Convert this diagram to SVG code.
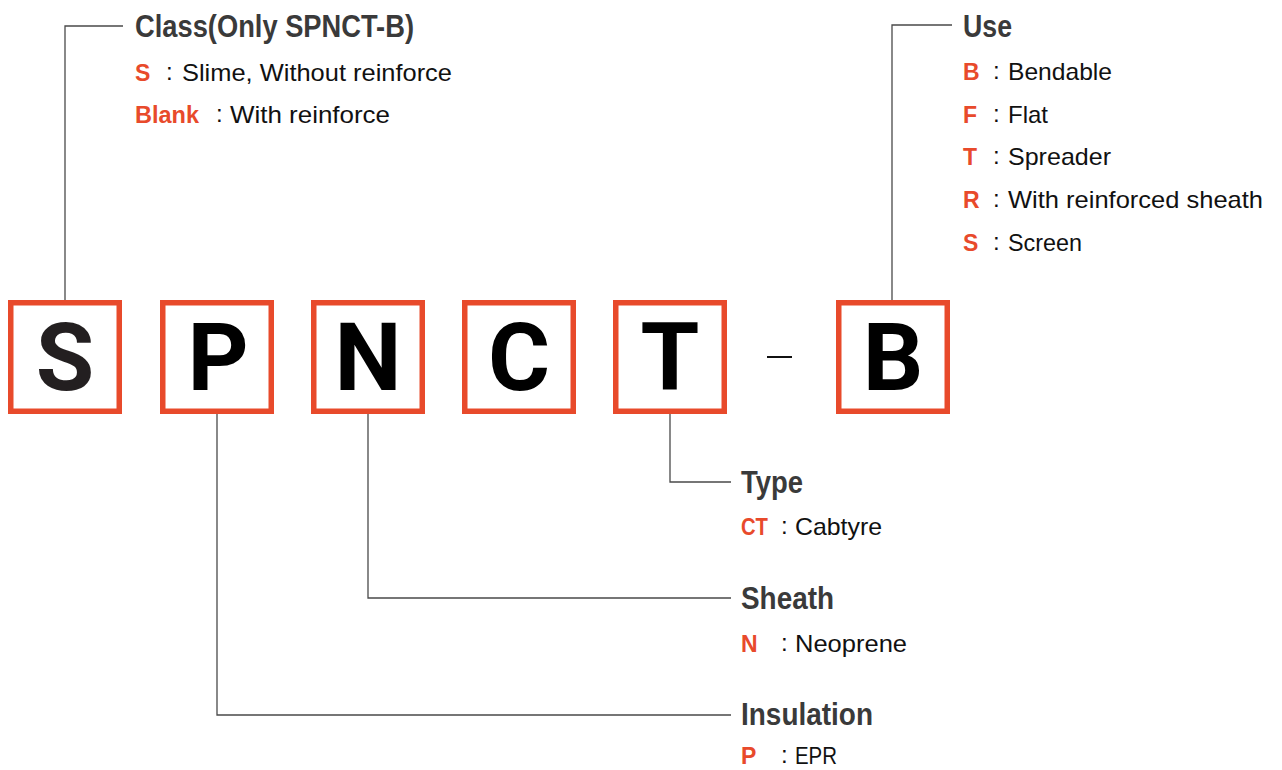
<svg xmlns="http://www.w3.org/2000/svg" width="1282" height="770" viewBox="0 0 1282 770">
  <style>
    .box { fill: #ffffff; stroke: #e84a2b; stroke-width: 5.5; }
    .code { font-family: Roboto, "Liberation Sans", sans-serif; font-weight: 700; font-size: 95px; fill: #000000; text-anchor: middle; }
    .head { font-family: "Liberation Sans", Arial, sans-serif; font-weight: 700; font-size: 31px; fill: #3a3a3a; }
    .key { font-family: "Liberation Sans", Arial, sans-serif; font-weight: 700; font-size: 23px; fill: #e84a2b; }
    .txt { font-family: "Liberation Sans", Arial, sans-serif; font-size: 24px; fill: #111111; }
    .wire { fill: none; stroke: #4a4a4a; stroke-width: 1.3; }
  </style>
  <rect width="1282" height="770" fill="#ffffff"/>

  <!-- connectors -->
  <g id="connectors">
    <polyline class="wire" points="123,26 65,26 65,300"/>
    <polyline class="wire" points="952,25 892,25 892,300"/>
    <polyline class="wire" points="670,413 670,482 731,482"/>
    <polyline class="wire" points="368,413 368,598 731,598"/>
    <polyline class="wire" points="217,413 217,715 731,715"/>
    <line x1="767" y1="357" x2="792" y2="357" stroke="#111111" stroke-width="2"/>
  </g>

  <!-- letter boxes -->
  <g id="box-s">
    <rect class="box" x="10.75" y="302.75" width="108.5" height="108.5"/>
    <text class="code" x="65" y="390" fill="#231f20" style="fill:#231f20">S</text>
  </g>
  <g id="box-p">
    <rect class="box" x="162.75" y="302.75" width="108.5" height="108.5"/>
    <text class="code" x="218" y="390">P</text>
  </g>
  <g id="box-n">
    <rect class="box" x="313.75" y="302.75" width="108.5" height="108.5"/>
    <text class="code" x="368" y="390">N</text>
  </g>
  <g id="box-c">
    <rect class="box" x="464.75" y="302.75" width="108.5" height="108.5"/>
    <text class="code" x="519" y="390">C</text>
  </g>
  <g id="box-t">
    <rect class="box" x="615.75" y="302.75" width="108.5" height="108.5"/>
    <text class="code" x="670" y="390">T</text>
  </g>
  <g id="box-b">
    <rect class="box" x="838.75" y="302.75" width="108.5" height="108.5"/>
    <text class="code" x="893" y="390">B</text>
  </g>

  <!-- class legend -->
  <g id="legend-class">
    <text class="head" x="135" y="37" textLength="279" lengthAdjust="spacingAndGlyphs">Class(Only SPNCT-B)</text>
    <text class="key" x="135" y="81">S</text>
    <text class="txt" x="166" y="80">:</text>
    <text class="txt" x="182" y="81" textLength="270" lengthAdjust="spacingAndGlyphs">Slime, Without reinforce</text>
    <text class="key" x="135" y="123" textLength="64" lengthAdjust="spacingAndGlyphs">Blank</text>
    <text class="txt" x="216" y="122">:</text>
    <text class="txt" x="230" y="123" textLength="160" lengthAdjust="spacingAndGlyphs">With reinforce</text>
  </g>

  <!-- use legend -->
  <g id="legend-use">
    <text class="head" x="963" y="37" textLength="49" lengthAdjust="spacingAndGlyphs">Use</text>
    <text class="key" x="963" y="80">B</text>
    <text class="txt" x="993" y="79">:</text>
    <text class="txt" x="1008" y="80" textLength="104" lengthAdjust="spacingAndGlyphs">Bendable</text>
    <text class="key" x="963" y="123">F</text>
    <text class="txt" x="993" y="122">:</text>
    <text class="txt" x="1008" y="123" textLength="40" lengthAdjust="spacingAndGlyphs">Flat</text>
    <text class="key" x="963" y="165">T</text>
    <text class="txt" x="993" y="164">:</text>
    <text class="txt" x="1008" y="165" textLength="103" lengthAdjust="spacingAndGlyphs">Spreader</text>
    <text class="key" x="963" y="208">R</text>
    <text class="txt" x="993" y="207">:</text>
    <text class="txt" x="1008" y="208" textLength="255" lengthAdjust="spacingAndGlyphs">With reinforced sheath</text>
    <text class="key" x="963" y="251">S</text>
    <text class="txt" x="993" y="250">:</text>
    <text class="txt" x="1008" y="251" textLength="74" lengthAdjust="spacingAndGlyphs">Screen</text>
  </g>

  <!-- type legend -->
  <g id="legend-type">
    <text class="head" x="741" y="493" textLength="62" lengthAdjust="spacingAndGlyphs">Type</text>
    <text class="key" x="741" y="535" textLength="27" lengthAdjust="spacingAndGlyphs">CT</text>
    <text class="txt" x="781" y="534">:</text>
    <text class="txt" x="795" y="535" textLength="87" lengthAdjust="spacingAndGlyphs">Cabtyre</text>
  </g>

  <!-- sheath legend -->
  <g id="legend-sheath">
    <text class="head" x="741" y="609" textLength="93" lengthAdjust="spacingAndGlyphs">Sheath</text>
    <text class="key" x="741" y="652">N</text>
    <text class="txt" x="781" y="651">:</text>
    <text class="txt" x="795" y="652" textLength="112" lengthAdjust="spacingAndGlyphs">Neoprene</text>
  </g>

  <!-- insulation legend -->
  <g id="legend-insulation">
    <text class="head" x="741" y="725" textLength="132" lengthAdjust="spacingAndGlyphs">Insulation</text>
    <text class="key" x="741" y="764">P</text>
    <text class="txt" x="781" y="763">:</text>
    <text class="txt" x="795" y="764" textLength="42" lengthAdjust="spacingAndGlyphs">EPR</text>
  </g>
</svg>
